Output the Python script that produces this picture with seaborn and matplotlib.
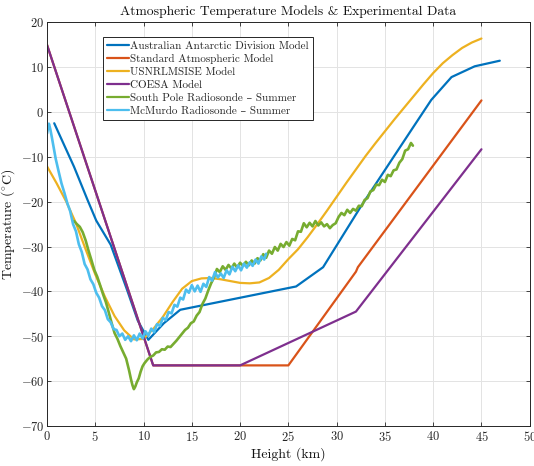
import numpy as np
import pandas as pd
import seaborn as sns
import matplotlib
matplotlib.use("Agg")
import matplotlib.pyplot as plt

# ---- model profiles (height km, temperature C) ----
aad_h = [0.75, 2.8, 4.2, 5.1, 6.6, 8.3, 9.4, 10.5, 12.1, 13.8, 25.8, 28.6, 32.5, 37.8, 39.8, 41.9, 44.3, 46.9]
aad_t = [-2.5, -12.2, -19.6, -24.2, -29.6, -39.7, -46.5, -50.8, -47.1, -44.1, -38.9, -34.6, -21.1, -3.8, 2.7, 7.8, 10.2, 11.45]

std_h = [0, 11, 25, 32.0, 32.2, 45]
std_t = [15, -56.5, -56.5, -35.6, -34.6, 2.6]

msis_h = list(range(0, 46))
msis_t = [-12.1, -15.9, -20.0, -24.8, -30.6, -36.2, -41.2, -45.5, -48.7, -50.7,
          -50.6, -48.4, -45.7, -42.4, -39.4, -37.7, -37.1, -37.0, -37.3, -37.7,
          -38.1, -38.2, -38.0, -37.0, -35.2, -32.8, -30.6, -27.9, -25.0, -22.0,
          -18.9, -15.8, -12.8, -9.8, -7.0, -4.3, -1.6, 1.0, 3.6, 6.2,
          8.7, 10.9, 12.7, 14.3, 15.5, 16.4]

coesa_h = [0, 11, 20, 32, 45]
coesa_t = [15, -56.5, -56.5, -44.5, -8.3]

# ---- radiosonde soundings ----
sp_h = [2.8, 3.1, 3.4, 3.7, 4.0, 4.3, 4.6, 4.9, 5.2, 5.5, 5.8, 6.1, 6.4, 6.7, 7.0, 7.3, 7.6, 7.9,
        8.2, 8.5, 8.7, 8.85, 9.0, 9.15, 9.3, 9.5, 9.7, 9.9, 10.1, 10.4, 10.7, 11.0, 11.3, 11.6,
        11.9, 12.2, 12.5, 12.8, 13.1, 13.4, 13.7, 14.0, 14.3, 14.6, 14.9, 15.2, 15.5, 15.8, 16.1,
        16.4, 16.7, 17.0, 17.3, 17.6, 17.9, 18.2, 18.5, 18.8, 19.1, 19.4, 19.7, 20.0, 20.3, 20.6,
        20.9, 21.2, 21.5, 21.8, 22.1, 22.4, 22.7, 23.0, 23.3, 23.6, 23.9, 24.2, 24.5, 24.8, 25.1,
        25.4, 25.7, 26.0, 26.3, 26.6, 26.9, 27.2, 27.5, 27.8, 28.1, 28.4, 28.7, 29.0, 29.3, 29.6,
        29.9, 30.2, 30.5, 30.8, 31.1, 31.4, 31.7, 32.0, 32.3, 32.6, 32.9, 33.2, 33.5, 33.8, 34.1,
        34.4, 34.7, 35.0, 35.3, 35.6, 35.9, 36.2, 36.5, 36.8, 37.1, 37.4, 37.7, 37.9]
sp_t = [-24.3, -25.0, -25.6, -26.8, -28.6, -30.9, -33.0, -35.2, -36.7, -38.6, -40.6, -42.4, -44.7,
        -47.1, -49.3, -50.6, -52.2, -53.6, -55.0, -57.6, -59.6, -60.9, -61.8, -61.2, -60.3, -59.4,
        -57.9, -56.7, -56.0, -55.2, -54.6, -54.3, -53.6, -53.5, -52.9, -53.0, -52.3, -52.4, -51.7,
        -51.0, -50.2, -49.4, -48.6, -48.1, -47.1, -46.7, -45.4, -44.6, -42.8, -41.6, -39.8, -38.2,
        -36.9, -35.0, -35.7, -34.4, -35.2, -34.1, -34.9, -33.8, -34.7, -33.6, -34.3, -33.4, -34.2,
        -33.1, -33.8, -32.6, -33.1, -31.7, -32.5, -30.9, -31.6, -30.1, -30.9, -29.4, -30.1, -29.0,
        -29.8, -28.3, -28.6, -26.6, -26.7, -24.8, -25.7, -24.7, -25.5, -24.3, -25.3, -24.6, -25.5,
        -25.0, -25.9, -25.2, -24.8, -23.4, -22.5, -23.0, -21.8, -22.5, -21.6, -22.0, -20.9, -21.0,
        -19.6, -19.2, -17.7, -17.4, -16.2, -16.3, -15.1, -15.6, -14.0, -14.3, -13.0, -12.8, -11.3,
        -10.5, -8.6, -8.3, -6.9, -7.5]

mc_h = [0.0, 0.1, 0.2, 0.35, 0.5, 0.7, 0.9, 1.2, 1.5, 1.8, 2.1, 2.4, 2.7, 3.0, 3.3, 3.6, 3.9, 4.2,
        4.5, 4.8, 5.1, 5.4, 5.7, 6.0, 6.3, 6.6, 6.9, 7.2, 7.5, 7.8, 8.1, 8.4, 8.7, 9.0, 9.3, 9.6,
        9.9, 10.2, 10.5, 10.8, 11.1, 11.4, 11.7, 12.0, 12.3, 12.6, 12.9, 13.2, 13.5, 13.8, 14.1,
        14.4, 14.7, 15.0, 15.3, 15.6, 15.9, 16.2, 16.5, 16.8, 17.1, 17.4, 17.7, 18.0, 18.3, 18.6,
        18.9, 19.2, 19.5, 19.8, 20.1, 20.4, 20.7, 21.0, 21.3, 21.6, 21.9, 22.2, 22.5, 22.7]
mc_t = [-4.8, -3.6, -2.6, -3.9, -5.6, -8.0, -10.4, -13.2, -15.9, -18.0, -20.3, -22.1, -25.0, -26.6,
        -29.5, -31.2, -33.9, -35.1, -37.3, -38.4, -40.3, -41.4, -43.3, -44.2, -46.2, -46.9, -48.4,
        -48.6, -50.0, -49.4, -50.8, -50.0, -51.1, -49.8, -50.9, -49.4, -50.5, -48.9, -49.9, -48.3,
        -49.1, -47.3, -47.7, -45.9, -46.4, -44.6, -44.9, -43.0, -43.4, -41.4, -41.8, -39.6, -40.3,
        -38.6, -40.0, -38.7, -40.1, -38.3, -39.0, -36.8, -37.6, -35.7, -36.9, -36.0, -37.0, -35.3,
        -36.2, -34.5, -35.5, -34.2, -35.3, -33.8, -34.7, -33.5, -34.3, -32.9, -33.8, -32.2, -32.9,
        -31.6]

series = [
    ("Australian Antarctic Division Model", aad_h, aad_t, "#0072BD", 1.6),
    ("Standard Atmospheric Model", std_h, std_t, "#D95319", 1.6),
    ("USNRLMSISE Model", msis_h, msis_t, "#EDB120", 1.6),
    ("COESA Model", coesa_h, coesa_t, "#7E2F8E", 1.6),
    ("South Pole Radiosonde \u2013 Summer", sp_h, sp_t, "#77AC30", 1.9),
    ("McMurdo Radiosonde \u2013 Summer", mc_h, mc_t, "#4DBEEE", 1.9),
]

sns.set_theme(style="whitegrid")
plt.rcParams['font.family'] = ['cmr10', 'DejaVu Serif']
plt.rcParams['mathtext.fontset'] = 'cm'
plt.rcParams['axes.unicode_minus'] = False
plt.rcParams['axes.formatter.use_mathtext'] = True

fig = plt.figure(figsize=(5.34, 4.66), dpi=100)
ax = fig.add_axes([0.088, 0.086, 0.904, 0.866])

for label, h, t, color, lw in series:
    df = pd.DataFrame({"h": h, "t": t})
    sns.lineplot(x="h", y="t", data=df, ax=ax, label=label, color=color,
                 linewidth=lw, estimator=None, sort=False)

ax.set_xlim(0, 50)
ax.set_ylim(-70, 20)
ax.set_xticks(np.arange(0, 51, 5))
ax.set_yticks(np.arange(-70, 21, 10))
ax.set_facecolor("white")
ax.grid(True, color="#e3e3e3", linewidth=0.7)
for s in ax.spines.values():
    s.set_color("#262626")
    s.set_linewidth(0.7)
ax.tick_params(direction="in", length=3, width=0.6, color="#262626",
               labelsize=9, labelcolor="#262626", top=True, right=True,
               bottom=True, left=True, pad=3)
ax.tick_params(axis="y", pad=2)

ax.set_title("Atmospheric Temperature Models & Experimental Data", fontsize=9.8, pad=5, color="#111111")
ax.set_xlabel("Height (km)", fontsize=10, labelpad=2, color="#111111")
ax.set_ylabel(r"Temperature ($^{\circ}$C)", fontsize=10, color="#111111")
ax.yaxis.set_label_coords(-0.062, 0.5)

leg = ax.legend(loc="upper left", bbox_to_anchor=(0.116, 0.964), borderaxespad=0,
                fontsize=8, frameon=True, fancybox=False, framealpha=1,
                edgecolor="#262626", handlelength=2.0, handletextpad=0.1,
                labelspacing=0.3, borderpad=0.35)
leg.get_frame().set_linewidth(0.7)
for line in leg.get_lines():
    line.set_linewidth(1.6)

fig.savefig("out.png", dpi=100)
